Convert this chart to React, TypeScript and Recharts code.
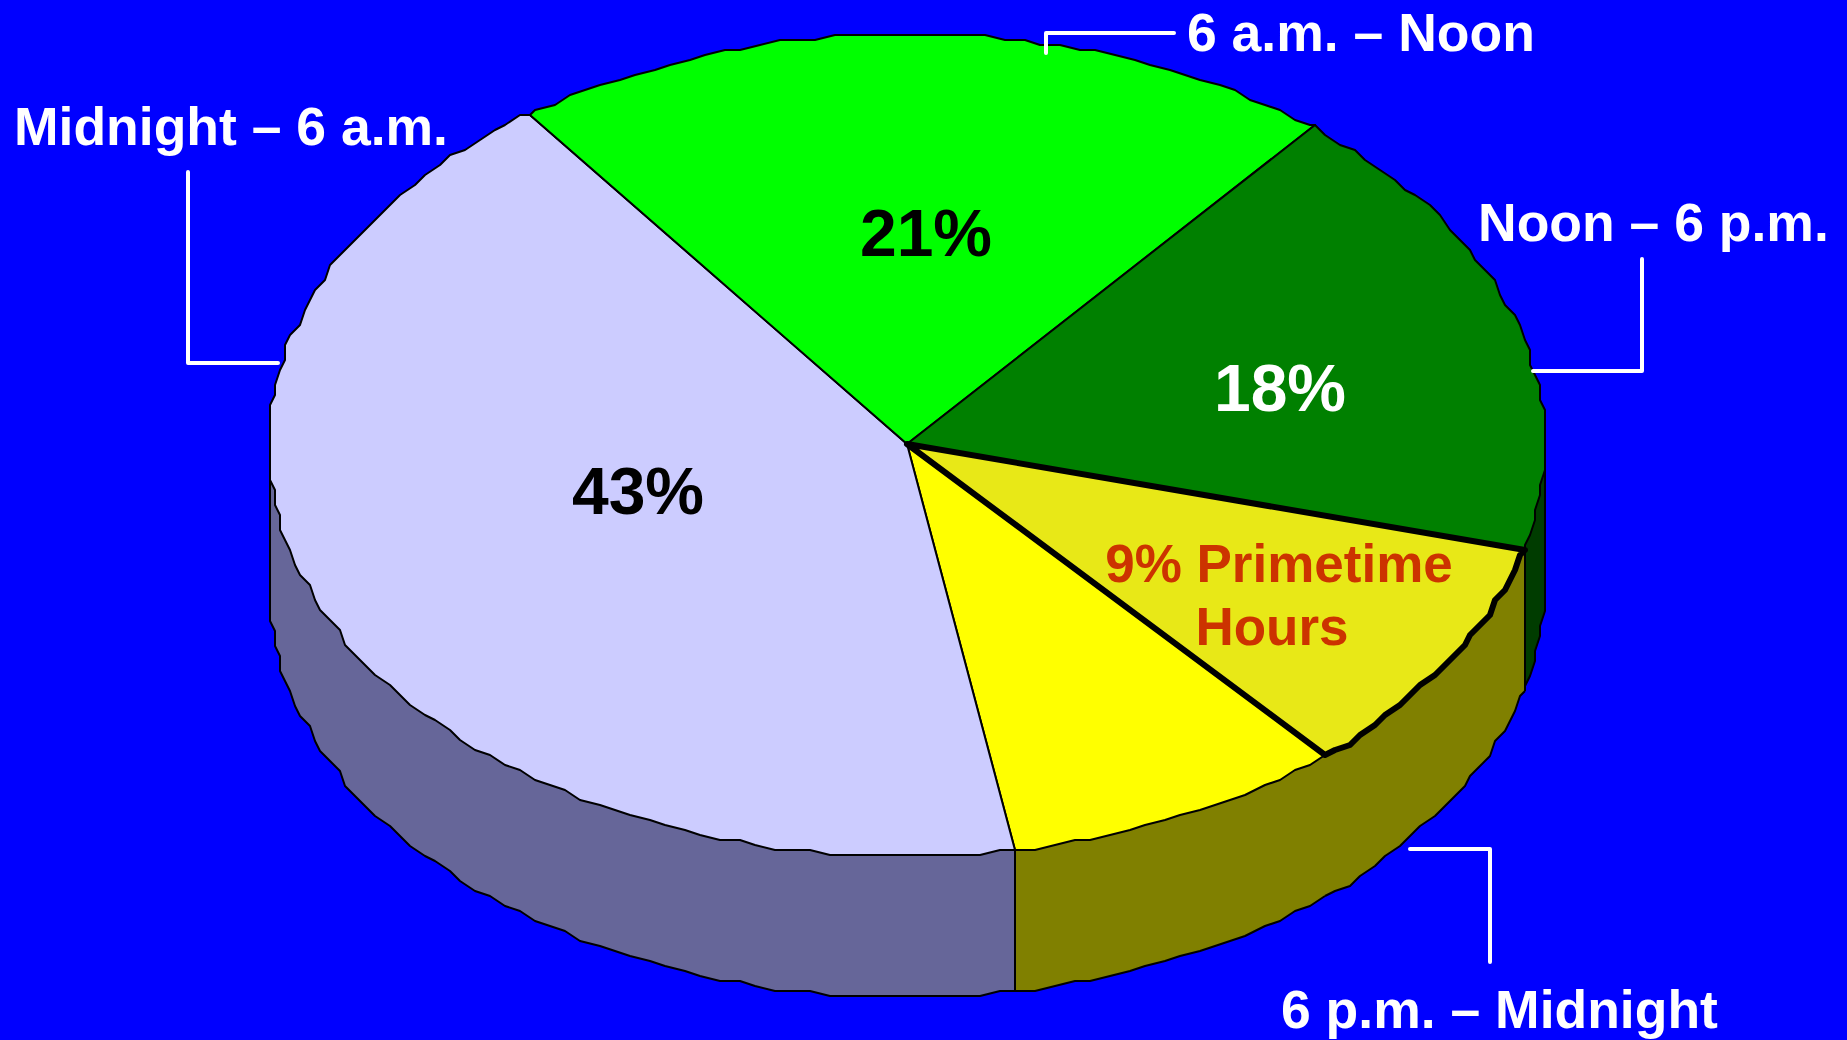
import { PieChart, Pie } from "recharts";

// clockwise from the primetime / 6 p.m. boundary, primetime last so its heavy outline stays on top
const slices = ["6 p.m. – Midnight", "Midnight – 6 a.m.", "6 a.m. – Noon", "Noon – 6 p.m.", "Primetime Hours"];
const shares = [8.6, 42.7, 21, 18.2, 9.5];
const topColors = ["#ffff00", "#ccccff", "#00ff00", "#008000", "#e8e817"];
const wallColors = ["#808000", "#666699", "#004000", "#003c00", "#808000"];
const outlineWidths = [2, 2, 2, 2, 6];

const rows = slices.map((name, i) => ({ name, share: shares[i] }));

const W = 1847;
const H = 1040;
const SQUASH = 0.645;
const DEPTH = 141;
const STEP = 1.7;
const GRID = 5;
const FONT = "'Liberation Sans', Arial, sans-serif";

// outside captions with their leader lines
const captions = [
  { text: "6 p.m. – Midnight", x: 1281, y: 1028, line: "1410,849 1490,849 1490,962" },
  { text: "Midnight – 6 a.m.", x: 14, y: 145, line: "188,172 188,363 278,363" },
  { text: "6 a.m. – Noon", x: 1187, y: 51, line: "1046,53 1046,33 1174,33" },
  { text: "Noon – 6 p.m.", x: 1478, y: 241, line: "1642,259 1642,371 1533,371" },
];

// text printed on the slices
const inside = [
  [],
  [{ text: "43%", x: 638, y: 514, size: 66, color: "#000000" }],
  [{ text: "21%", x: 926, y: 256, size: 66, color: "#000000" }],
  [{ text: "18%", x: 1280, y: 411, size: 66, color: "#ffffff" }],
  [
    { text: "9% Primetime", x: 1279, y: 582, size: 53, color: "#cc3300" },
    { text: "Hours", x: 1272, y: 645, size: 53, color: "#cc3300" },
  ],
];

const snap = (v: number) => Math.round(v / GRID) * GRID;

function rimPoint(cx: number, cy: number, r: number, deg: number) {
  const rad = (deg * Math.PI) / 180;
  return [snap(cx + r * Math.cos(rad)), snap(cy - r * SQUASH * Math.sin(rad))];
}

// points along the rim going clockwise, from angle a down to angle b
function rim(cx: number, cy: number, r: number, a: number, b: number) {
  const out = [rimPoint(cx, cy, r, a)];
  let d = Math.ceil(a / STEP - 1) * STEP;
  while (d > b) {
    out.push(rimPoint(cx, cy, r, d));
    d -= STEP;
  }
  out.push(rimPoint(cx, cy, r, b));
  return out;
}

const toPath = (pts: number[][]) => pts.map((p, i) => `${i ? "L" : "M"}${p[0]} ${p[1]}`).join(" ");

function TopFace(props: any) {
  const { cx, cy, outerRadius, startAngle, endAngle, index } = props;
  const pts = [[cx, cy - 1], ...rim(cx, cy, outerRadius, startAngle, endAngle)];
  return (
    <path
      d={toPath(pts) + " Z"}
      fill={topColors[index]}
      stroke="#000000"
      strokeWidth={outlineWidths[index]}
      strokeLinejoin="round"
    />
  );
}

function Wall(props: any) {
  const { cx, cy, outerRadius, startAngle, endAngle, index } = props;
  const parts: any[] = [];
  // the side only shows along the front half of the ellipse
  [0, -360].forEach((shift) => {
    const a = Math.min(startAngle, shift);
    const b = Math.max(endAngle, shift - 180);
    if (a <= b) return;
    const upper = rim(cx, cy, outerRadius, a, b);
    const lower = upper.map((p) => [p[0], p[1] + DEPTH]);
    const first = upper[0];
    const last = upper[upper.length - 1];
    parts.push(
      <g key={shift}>
        <path d={toPath([...upper, ...[...lower].reverse()]) + " Z"} fill={wallColors[index]} stroke="none" />
        <path d={toPath(lower)} fill="none" stroke="#000000" strokeWidth={2} strokeLinejoin="round" />
        {index !== 0 && <path d={toPath([first, lower[0]])} stroke="#000000" strokeWidth={2} />}
        {index !== 4 && <path d={toPath([last, lower[lower.length - 1]])} stroke="#000000" strokeWidth={2} />}
      </g>
    );
  });
  return <g>{parts}</g>;
}

function SliceText({ index }: any) {
  const cap = captions[index];
  return (
    <g fontFamily={FONT} fontWeight="bold">
      {cap && (
        <>
          <polyline
            points={cap.line}
            fill="none"
            stroke="#ffffff"
            strokeWidth={4}
            strokeLinecap="round"
            strokeLinejoin="round"
          />
          <text x={cap.x} y={cap.y} fontSize={53.5} fill="#ffffff">
            {cap.text}
          </text>
        </>
      )}
      {inside[index].map((t) => (
        <text key={t.text} x={t.x} y={t.y} fontSize={t.size} fill={t.color} textAnchor="middle">
          {t.text}
        </text>
      ))}
    </g>
  );
}

export default function App() {
  return (
    <div style={{ position: "absolute", left: 0, top: 0, width: W, height: H, background: "#0000ff", overflow: "hidden" }}>
      <style>{"html,body{margin:0;background:#0000ff}"}</style>
      <PieChart width={W} height={H} margin={{ top: 0, right: 0, bottom: 0, left: 0 }}>
        <Pie
          data={rows}
          dataKey="share"
          nameKey="name"
          cx={907}
          cy={445}
          outerRadius={638}
          startAngle={-49.2}
          endAngle={-409.2}
          shape={Wall}
          isAnimationActive={false}
        />
        <Pie
          data={rows}
          dataKey="share"
          nameKey="name"
          cx={907}
          cy={445}
          outerRadius={638}
          startAngle={-49.2}
          endAngle={-409.2}
          shape={TopFace}
          label={SliceText}
          labelLine={false}
          isAnimationActive={false}
        />
      </PieChart>
    </div>
  );
}
